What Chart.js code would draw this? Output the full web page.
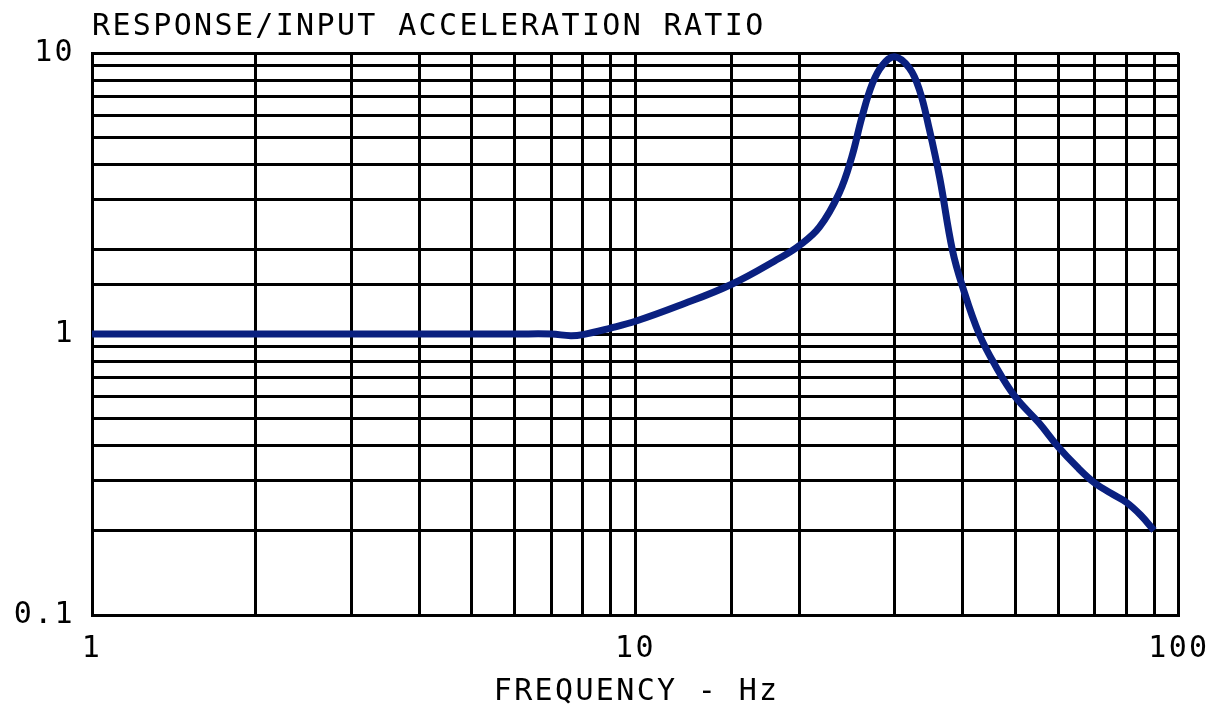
<!DOCTYPE html>
<html>
<head>
<meta charset="utf-8">
<script src="https://cdn.jsdelivr.net/npm/chart.js@4.4.1/dist/chart.umd.min.js"></script>
<style>
  html, body { margin: 0; padding: 0; background: #fff; }
  #wrap { width: 1222px; height: 712px; }
</style>
</head>
<body>
<div id="wrap"><canvas id="resp_canvas"></canvas></div>
<script>
// frequency (Hz) and response/input acceleration ratio
var freq  = [1, 2, 3, 4, 5, 6, 7, 7.6, 8, 9, 10, 12, 15, 18.4, 20, 21.8, 23.7, 25, 26.1, 27.3, 28.5, 30, 31.9, 33.3, 34.7, 36.3, 38.3, 40, 42.9, 46.1, 50, 55.3, 60, 65, 70, 75, 80, 85, 90];
var ratio = [1, 1, 1, 1, 1, 1, 1, 0.986, 0.995, 1.05, 1.11, 1.26, 1.5, 1.86, 2.06, 2.4, 3.17, 4.26, 5.9, 7.8, 9.07, 9.7, 8.85, 7.4, 5.4, 3.59, 1.99, 1.47, 1.0, 0.763, 0.597, 0.482, 0.396, 0.336, 0.295, 0.271, 0.252, 0.227, 0.2];
var xTicks = [1, 10, 100];
var yTicks = [0.1, 1, 10];

var chartTitle = 'RESPONSE/INPUT ACCELERATION RATIO';
var xTitle = 'FREQUENCY - Hz';

var fontFamily = '"DejaVu Sans Mono", "Liberation Mono", monospace';
var spacing = 2.35;

var points = freq.map(function (f, i) { return { x: f, y: ratio[i] }; });

// letter spacing for all text, plus the titles
var textPlugin = {
    id: 'textPlugin',
    beforeDraw: function (chart) {
        chart.ctx.letterSpacing = spacing + 'px';
    },
    afterDraw: function (chart) {
        var ctx = chart.ctx;
        ctx.save();
        ctx.letterSpacing = spacing + 'px';
        ctx.fillStyle = '#000';
        ctx.font = '30px ' + fontFamily;
        ctx.textAlign = 'left';
        ctx.textBaseline = 'alphabetic';
        ctx.fillText(chartTitle, chart.chartArea.left, 35);
        var w = ctx.measureText(xTitle).width - spacing;
        ctx.fillText(xTitle, (chart.chartArea.left + chart.chartArea.right) / 2 - w / 2, 700);
        ctx.restore();
    }
};

var ctx = document.getElementById('resp_canvas').getContext('2d');
new Chart(ctx, {
    type: 'line',
    data: {
        datasets: [{
            data: points,
            borderColor: '#0a2080',
            borderWidth: 7,
            pointRadius: 0,
            tension: 0.4,
            fill: false
        }]
    },
    options: {
        responsive: true,
        maintainAspectRatio: false,
        animation: false,
        layout: { padding: { left: 0, right: 42, top: 53, bottom: 0 } },
        plugins: {
            legend: { display: false },
            tooltip: { enabled: false },
            title: { display: false }
        },
        scales: {
            x: {
                type: 'logarithmic',
                min: 1,
                max: 100,
                afterFit: function (scale) { scale.height = 97; },
                grid: { color: '#000', lineWidth: 3, drawTicks: false },
                border: { color: '#000', width: 3 },
                ticks: {
                    autoSkip: false,
                    maxRotation: 0,
                    padding: 16,
                    color: '#000',
                    font: { family: fontFamily, size: 30 },
                    callback: function (v) { return xTicks.indexOf(v) >= 0 ? String(v) : ''; }
                }
            },
            y: {
                type: 'logarithmic',
                min: 0.1,
                max: 10,
                afterFit: function (scale) { scale.width = 92; },
                grid: { color: '#000', lineWidth: 3, drawTicks: false },
                border: { color: '#000', width: 3 },
                ticks: {
                    autoSkip: false,
                    padding: 17,
                    color: '#000',
                    font: { family: fontFamily, size: 30 },
                    callback: function (v) { return yTicks.indexOf(v) >= 0 ? String(v) : ''; }
                }
            }
        }
    },
    plugins: [textPlugin]
});
</script>
</body>
</html>
